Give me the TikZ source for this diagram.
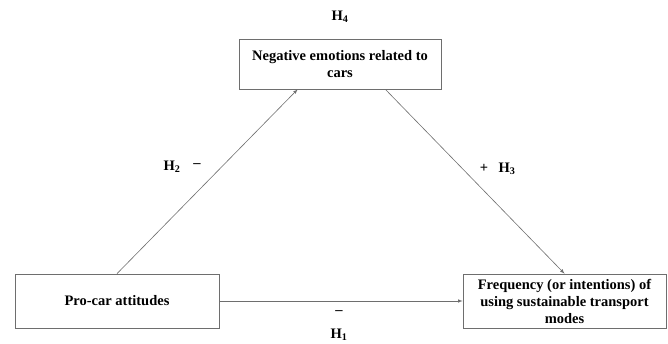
\documentclass[tikz,border=0pt]{standalone}
\usepackage{fontspec}
\setmainfont{Liberation Serif}
\usepackage{tikz}
\definecolor{edge}{RGB}{110,110,110}

\begin{document}
\begin{tikzpicture}[x=1pt,y=-1pt,font=\bfseries\fontsize{14.5}{17}\selectfont,
    box/.style={draw=edge,line width=0.7pt,align=center,inner sep=1pt},
    link/.style={draw=edge,line width=0.6pt,->,>=latex}]
        \useasboundingbox (0,0) rectangle (668,344);

        \node[box,minimum width=202pt,minimum height=50pt] (emo) at (340,64)
            {Negative emotions related to\\cars};
        \node[box,minimum width=204pt,minimum height=54pt] (att) at (117,301) {Pro-car attitudes};
        \node[box,minimum width=203pt,minimum height=54pt] (freq) at (564.5,301)
            {Frequency (or intentions) of\\using sustainable transport\\modes};

        \draw[link] (att.north) -- ([xshift=59pt]emo.south west);
        \draw[link] ([xshift=-56pt]emo.south east) -- (freq.north);
        \draw[link] (att.east) -- (freq.west);

        \node (h4) at (340,17) {H\textsubscript{4}};
        \node (h2) at (172,167) {H\textsubscript{2}};
        \node (s2) at (197,166) {--};
        \node (s3) at (484,168) {+};
        \node (h3) at (507,169) {H\textsubscript{3}};
        \node (s1) at (339,313) {--};
        \node (h1) at (339,335) {H\textsubscript{1}};
    \end{tikzpicture}
\end{document}
